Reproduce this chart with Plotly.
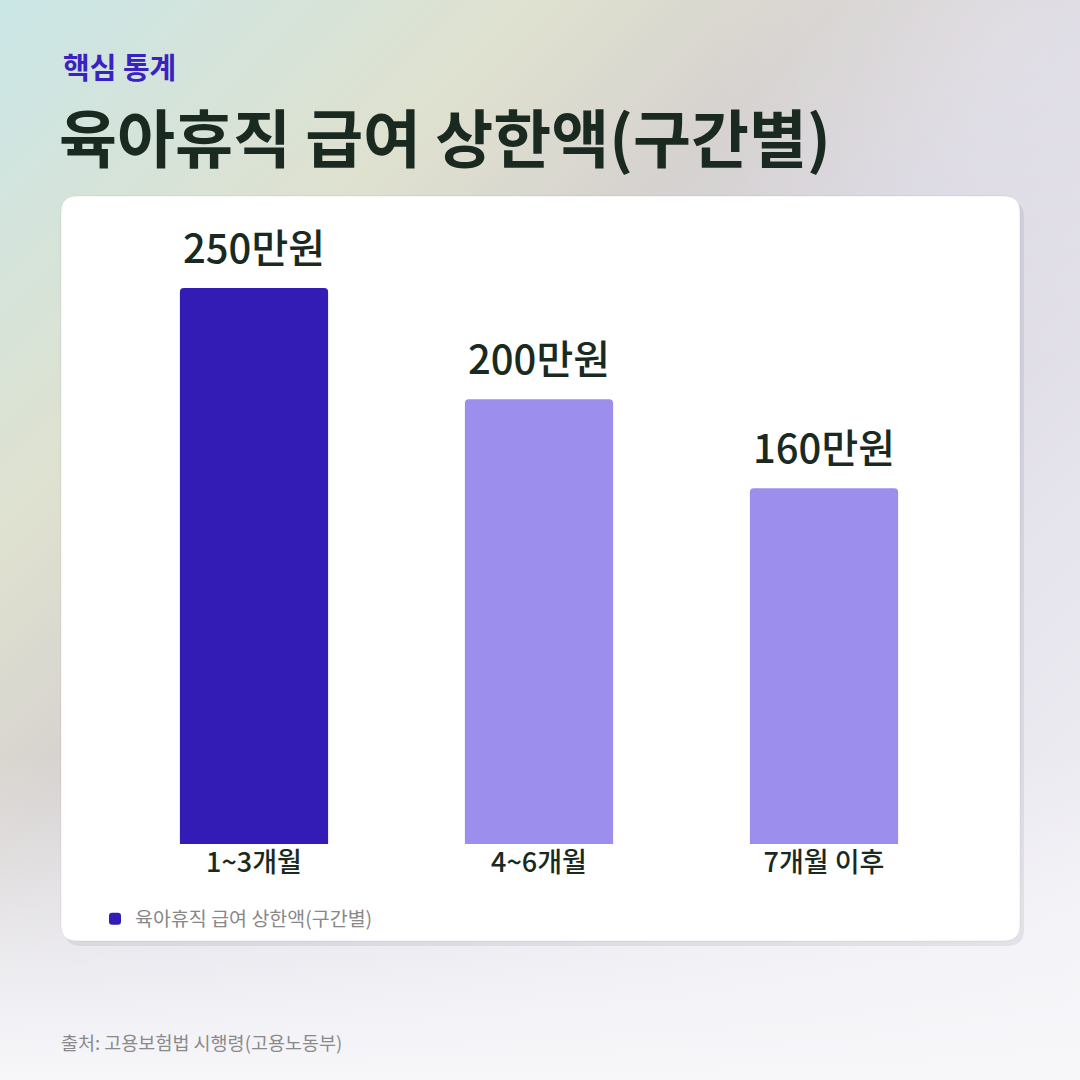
import base64
import plotly.graph_objects as go

W, H = 1080, 1080

# data
categories = ["1~3개월", "4~6개월", "7개월 이후"]
values = [250, 200, 160]
value_labels = ["250만원", "200만원", "160만원"]
bar_colors = ["#331cb6", "#9b8eec", "#9b8eec"]
series_name = "육아휴직 급여 상한액(구간별)"

kicker = "핵심 통계"
title = "육아휴직 급여 상한액(구간별)"
source = "출처: 고용보험법 시행령(고용노동부)"

FONT = "Noto Sans CJK KR, Noto Sans, sans-serif"
DARK = "#1a2a21"


def px(x):
    return x / W


def py(y):
    return 1 - y / H


def rounded_rect(x0, y0, x1, y1, r):
    # pixel coords -> paper path with quadratic corners
    pts = [
        ("M", [(x0 + r, y0)]),
        ("L", [(x1 - r, y0)]),
        ("Q", [(x1, y0), (x1, y0 + r)]),
        ("L", [(x1, y1 - r)]),
        ("Q", [(x1, y1), (x1 - r, y1)]),
        ("L", [(x0 + r, y1)]),
        ("Q", [(x0, y1), (x0, y1 - r)]),
        ("L", [(x0, y0 + r)]),
        ("Q", [(x0, y0), (x0 + r, y0)]),
    ]
    out = []
    for cmd, coords in pts:
        out.append(cmd + " ".join(f"{px(a):.5f},{py(b):.5f}" for a, b in coords))
    return " ".join(out) + " Z"


# soft background gradient as an svg image
svg = f"""<svg xmlns='http://www.w3.org/2000/svg' width='{W}' height='{H}'>
<defs>
<linearGradient id='g' x1='0' y1='0' x2='1' y2='1'>
<stop offset='0' stop-color='#cae6e6'/>
<stop offset='0.25' stop-color='#dfe1cf'/>
<stop offset='0.39' stop-color='#d6d2d0'/>
<stop offset='0.52' stop-color='#dad7e2'/>
<stop offset='1' stop-color='#f4f3f8'/>
</linearGradient>
<linearGradient id='w' x1='0' y1='0' x2='0' y2='1'>
<stop offset='0.7' stop-color='#f7f7fa' stop-opacity='0'/>
<stop offset='1' stop-color='#f7f7fa' stop-opacity='1'/>
</linearGradient>
<radialGradient id='r' cx='0.95' cy='0.05' r='0.3'>
<stop offset='0' stop-color='#ffffff' stop-opacity='0.2'/>
<stop offset='1' stop-color='#ffffff' stop-opacity='0'/>
</radialGradient>
</defs>
<rect width='100%' height='100%' fill='url(#g)'/>
<rect width='100%' height='100%' fill='url(#w)'/>
<rect width='100%' height='100%' fill='url(#r)'/>
</svg>"""
bg_src = "data:image/svg+xml;base64," + base64.b64encode(svg.encode()).decode()

fig = go.Figure()
fig.add_trace(go.Bar(
    x=categories,
    y=values,
    name=series_name,
    marker=dict(color=bar_colors, cornerradius=4, line=dict(width=0)),
    hoverinfo="skip",
    showlegend=True,
))

for cat, val, lab in zip(categories, values, value_labels):
    fig.add_annotation(
        x=cat, y=val, text=lab, showarrow=False,
        xref="x", yref="y", yanchor="middle", yshift=42,
        font=dict(family=FONT, size=40, color=DARK, weight=500),
    )

fig.add_annotation(
    x=px(61), y=py(66), xref="paper", yref="paper", xanchor="left", yanchor="middle",
    text=f"<b>{kicker}</b>", showarrow=False,
    font=dict(family=FONT, size=29, color="#3a22c0"),
)
fig.add_annotation(
    x=px(57), y=py(134), xref="paper", yref="paper", xanchor="left", yanchor="middle",
    text=f"<b>{title}</b>", showarrow=False,
    font=dict(family=FONT, size=63, color=DARK),
)
fig.add_annotation(
    x=px(59), y=py(1042), xref="paper", yref="paper", xanchor="left", yanchor="middle",
    text=source, showarrow=False,
    font=dict(family=FONT, size=18.5, color="#8a8a8a"),
)

fig.update_layout(
    width=W, height=H,
    margin=dict(l=0, r=0, t=0, b=0),
    paper_bgcolor="#e6e6e8",
    plot_bgcolor="rgba(0,0,0,0)",
    font=dict(family=FONT),
    bargap=0.48,
    images=[dict(source=bg_src, xref="paper", yref="paper", x=0, y=1,
                 sizex=1, sizey=1, sizing="stretch", layer="below", xanchor="left", yanchor="top")],
    shapes=[
        dict(type="path", path=rounded_rect(65, 201, 1024, 946, 16), xref="paper", yref="paper",
             fillcolor="rgba(60,60,80,0.09)", line=dict(width=0), layer="below"),
        dict(type="path", path=rounded_rect(61, 196, 1020, 941, 16), xref="paper", yref="paper",
             fillcolor="#ffffff", line=dict(color="rgba(0,0,0,0.07)", width=1), layer="below"),
    ],
    xaxis=dict(
        domain=[px(111.5), px(966.5)],
        showgrid=False, zeroline=False, showline=False, ticks="",
        tickfont=dict(family=FONT, size=27, color=DARK, weight=500),
    ),
    yaxis=dict(
        domain=[py(844), py(232.4)],
        range=[0, 275], visible=False, showgrid=False, zeroline=False,
    ),
    legend=dict(
        x=px(95), y=py(919), xanchor="left", yanchor="middle",
        bgcolor="rgba(0,0,0,0)", font=dict(family=FONT, size=19.5, color="#888888"),
        itemclick=False, itemdoubleclick=False,
    ),
)

fig.write_html(
    "out.html",
    config={"displayModeBar": False},
    post_script="document.body.style.margin='0';document.body.style.overflow='hidden';",
)
